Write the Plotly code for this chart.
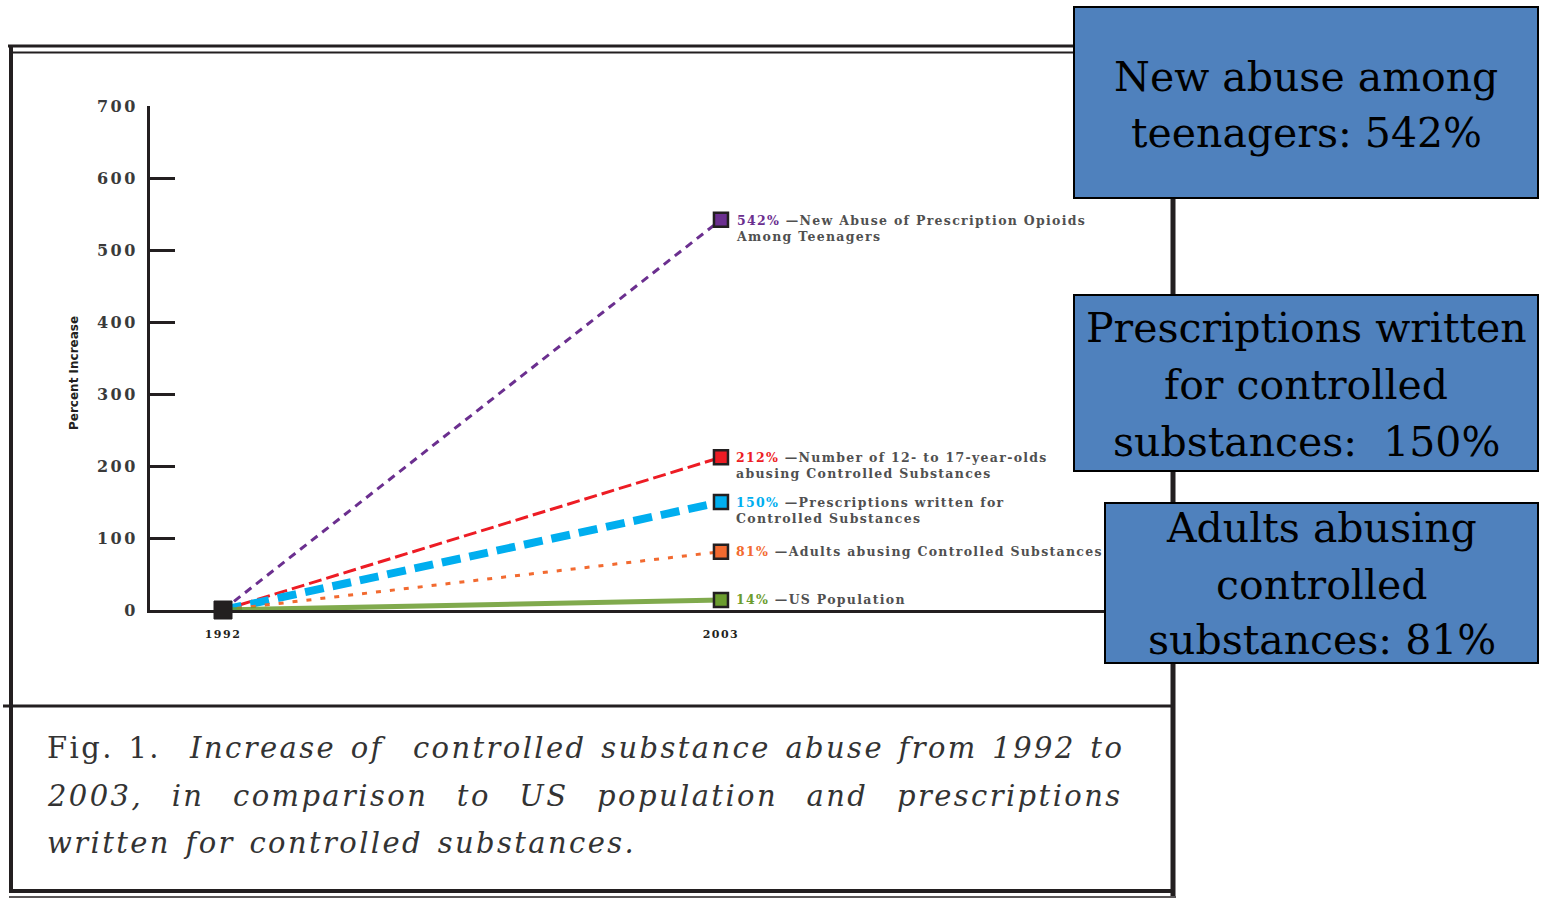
import plotly.graph_objects as go

W, H = 1543, 899

years = [1992, 2003]
series_names = ["New Abuse of Prescription Opioids<br>Among Teenagers",
                "Number of 12- to 17-year-olds<br>abusing Controlled Substances",
                "Prescriptions written for<br>Controlled Substances",
                "Adults abusing Controlled Substances",
                "US Population"]
series_end = [542, 212, 150, 81, 14]
series_pct = ["542%", "212%", "150%", "81%", "14%"]
series_colors = ["#6b2f8f", "#ed1c24", "#00aeef", "#f26a30", "#6b9c2e"]
series_dash = ["8px,6px", "13px,5px", "19px,9px", "5px,9px", "solid"]
series_width = [3, 3, 8, 3, 5]
y_ticks = [0, 100, 200, 300, 400, 500, 600, 700]
x_ticks = [1992, 2003]
box_lines = [["New abuse among", "teenagers: 542%"],
             ["Prescriptions written", "for controlled", "substances:  150%"],
             ["Adults abusing", "controlled", "substances: 81%"]]
caption_lines = ["Fig. 1.  <i>Increase of  controlled substance abuse from 1992 to</i>",
                 "<i>2003, in comparison to US population and prescriptions</i>",
                 "<i>written for controlled substances.</i>"]


def px(x):
    return x / W


def py(y):
    return 1 - y / H


fig = go.Figure()

for name, end, col, dash, wd in zip(series_names, series_end, series_colors, series_dash, series_width):
    fig.add_trace(go.Scatter(
        x=years, y=[0, end], mode="lines",
        line=dict(color=col, width=wd, dash=dash),
        opacity=0.85 if dash == "solid" else 1.0,
        cliponaxis=False, showlegend=False, hoverinfo="skip"))
    fig.add_trace(go.Scatter(
        x=[years[1]], y=[end], mode="markers",
        marker=dict(symbol="square", size=14, color=col,
                    line=dict(color="#231f20", width=2.5)),
        cliponaxis=False, showlegend=False, hoverinfo="skip"))

fig.add_trace(go.Scatter(
    x=[years[0]], y=[0], mode="markers",
    marker=dict(symbol="square", size=18, color="#231f20",
                line=dict(color="#231f20", width=1)),
    cliponaxis=False, showlegend=False, hoverinfo="skip"))

annotations = []
for name, end, col, pct in zip(series_names, series_end, series_colors, series_pct):
    two = "<br>" in name
    annotations.append(dict(
        x=years[1], y=end, xref="x", yref="y",
        text=(f"<span style='letter-spacing:1.3px'><span style='color:{col}'>{pct}</span>"
              f" \u2014{name}</span>"),
        showarrow=False, xanchor="left", yanchor="top" if two else "middle",
        yshift=9 if two else 0, xshift=13, align="left",
        font=dict(family="DejaVu Serif", size=12.5, color="#505050", weight="bold")))

annotations.append(dict(
    x=px(65), y=py(373), xref="paper", yref="paper",
    text="<b>Percent Increase</b>", textangle=-90, showarrow=False,
    font=dict(family="DejaVu Sans", size=12, color="#231f20")))

cap_y = [748, 796, 843]
cap_word = [3, 17, 3]
for t, yy, ws in zip(caption_lines, cap_y, cap_word):
    annotations.append(dict(
        x=px(45), y=py(yy), xref="paper", yref="paper",
        text=f"<span style='letter-spacing:2.4px;word-spacing:{ws}px'>{t}</span>",
        showarrow=False, xanchor="left", yanchor="middle", align="left",
        font=dict(family="DejaVu Serif", size=29, color="#333333")))

boxes = [(1074, 7, 1538, 198), (1074, 295, 1538, 471), (1105, 503, 1538, 663)]
box_line_y = [[77, 133], [328, 385, 442], [528, 585, 640]]

shapes = []
line_col = "#231f20"
# frame
shapes += [
    dict(type="line", xref="paper", yref="paper", x0=px(8), x1=px(1176), y0=py(46), y1=py(46),
         line=dict(color=line_col, width=3)),
    dict(type="line", xref="paper", yref="paper", x0=px(11), x1=px(1176), y0=py(52.5), y1=py(52.5),
         line=dict(color=line_col, width=2)),
    dict(type="line", xref="paper", yref="paper", x0=px(11), x1=px(11), y0=py(45), y1=py(893),
         line=dict(color=line_col, width=4)),
    dict(type="line", xref="paper", yref="paper", x0=px(1173), x1=px(1173), y0=py(45), y1=py(896),
         line=dict(color=line_col, width=5)),
    dict(type="line", xref="paper", yref="paper", x0=px(3), x1=px(1173), y0=py(706), y1=py(706),
         line=dict(color=line_col, width=3)),
    dict(type="line", xref="paper", yref="paper", x0=px(11), x1=px(1175), y0=py(891), y1=py(891),
         line=dict(color=line_col, width=4)),
    dict(type="line", xref="paper", yref="paper", x0=px(9), x1=px(1176), y0=py(897), y1=py(897),
         line=dict(color=line_col, width=1.5)),
]
for (x0, y0, x1, y1), lines, ys in zip(boxes, box_lines, box_line_y):
    shapes.append(dict(type="rect", xref="paper", yref="paper",
                       x0=px(x0), x1=px(x1), y0=py(y0), y1=py(y1),
                       fillcolor="#4f81bd", line=dict(color="#000000", width=2), layer="above"))
    for t, yy in zip(lines, ys):
        annotations.append(dict(
            x=px((x0 + x1) / 2), y=py(yy), xref="paper", yref="paper",
            text=t, showarrow=False, xanchor="center", yanchor="middle", align="center",
            font=dict(family="DejaVu Serif", size=41, color="#000000")))

fig.update_layout(
    width=W, height=H, autosize=False,
    margin=dict(l=0, r=0, t=0, b=0, pad=0, autoexpand=False),
    paper_bgcolor="white", plot_bgcolor="white",
    xaxis=dict(domain=[px(150), px(1173)], range=[1990.3875, 2012.985],
               tickvals=x_ticks, automargin=False,
               ticktext=[f"<span style='letter-spacing:1.5px'><b>{v}</b></span>" for v in x_ticks],
               showgrid=False, zeroline=False, showline=True, linecolor=line_col, linewidth=3,
               ticks="", ticklabelstandoff=12,
               tickfont=dict(family="DejaVu Serif", size=11, color="#231f20")),
    yaxis=dict(domain=[py(610), py(106)], range=[0, 700],
               tickvals=y_ticks, automargin=False,
               ticktext=[f"<span style='letter-spacing:2.5px'><b>{v}</b></span>" for v in y_ticks],
               showgrid=False, zeroline=False,
               showline=True, linecolor=line_col, linewidth=3,
               ticks="inside", ticklen=25, tickwidth=3, tickcolor=line_col,
               ticklabelstandoff=6,
               tickfont=dict(family="DejaVu Serif", size=16, color="#3a3a3a")),
    shapes=shapes, annotations=annotations,
)

fig.write_html(
    "out.html",
    config={"displayModeBar": False},
    post_script=("document.documentElement.style.margin='0';"
                 "document.documentElement.style.overflow='hidden';"
                 "document.body.style.margin='0';"
                 "document.body.style.overflow='hidden';"),
)
